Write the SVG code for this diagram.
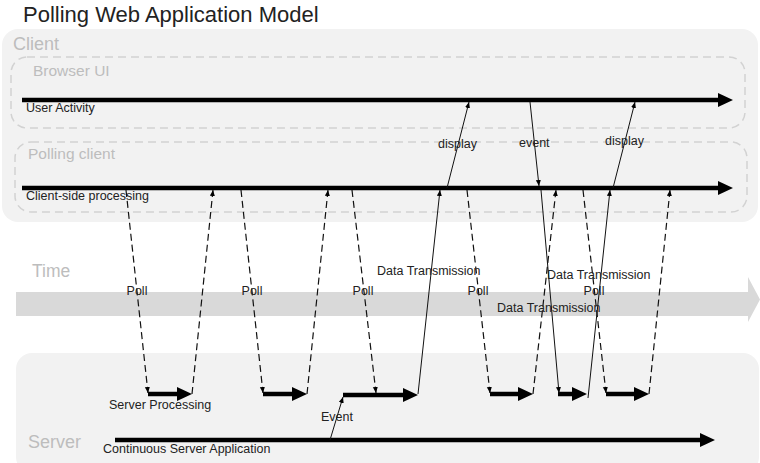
<svg xmlns="http://www.w3.org/2000/svg" width="760" height="463" viewBox="0 0 760 463">
<style>
.area{fill:#f2f2f2;stroke:none}
.lane{fill:none;stroke:#d2d2d2;stroke-width:1.5;stroke-dasharray:8 5}
.big{font-family:"Liberation Sans",Arial,sans-serif;fill:#bdbdbd}
.lbl{font-family:"Liberation Sans",Arial,sans-serif;font-size:12.5px;fill:#222}
.thick{fill:none;stroke:#000;stroke-width:4.5;marker-end:url(#head)}
.thin{fill:none;stroke:#111;stroke-width:1;marker-end:url(#tip)}
.dash{fill:none;stroke:#111;stroke-width:1.2;stroke-dasharray:7 4;marker-end:url(#tip)}
</style>
<defs>
<marker id="head" markerUnits="userSpaceOnUse" markerWidth="16" markerHeight="15" refX="0" refY="7" orient="auto">
<path d="M0,0 L15,7 L0,14 z" fill="#000"/>
</marker>
<marker id="tip" markerUnits="userSpaceOnUse" markerWidth="7" markerHeight="6" refX="6" refY="2.5" orient="auto">
<path d="M0,0 L6,2.5 L0,5 z" fill="#000"/>
</marker>
</defs>
<rect width="760" height="463" fill="#fff"/>
<text x="23" y="22" font-family="Liberation Sans, Arial, sans-serif" font-size="22" fill="#222">Polling Web Application Model</text>

<g id="client">
<rect class="area" x="2" y="29" width="756" height="193" rx="16"/>
<text class="big" x="13" y="50" font-size="18">Client</text>
</g>
<g id="browser-ui">
<rect class="lane" x="11" y="57" width="734" height="71" rx="16"/>
<text class="big" x="33" y="76" font-size="15.5">Browser UI</text>
</g>
<g id="polling-client">
<rect class="lane" x="15" y="142" width="732" height="70" rx="16"/>
<text class="big" x="28" y="159" font-size="15.5">Polling client</text>
</g>
<g id="time">
<path d="M16,292 H748 V277 L760,299.5 L748,322 V316 H16 z" fill="#d9d9d9"/>
<text class="big" x="32" y="277" font-size="17.5">Time</text>
</g>
<g id="server">
<rect class="area" x="16" y="353" width="743" height="120" rx="16"/>
<text class="big" x="28" y="448" font-size="18">Server</text>
</g>

<g id="timelines">
<path class="thick" d="M22,100 H718"/>
<text class="lbl" x="26" y="112">User Activity</text>
<path class="thick" d="M22,188 H718"/>
<text class="lbl" x="26" y="200">Client-side processing</text>
<path class="thick" d="M115,440 H700"/>
<text class="lbl" x="103" y="453">Continuous Server Application</text>
</g>

<g id="server-processing">
<path class="thick" d="M148,394 H177"/>
<path class="thick" d="M263,394 H292"/>
<path class="thick" d="M343,395 H403"/>
<path class="thick" d="M490,394 H518"/>
<path class="thick" d="M558,394 H572"/>
<path class="thick" d="M606,394 H634"/>
<text class="lbl" x="109" y="409">Server Processing</text>
</g>

<g id="connectors">
<path class="dash" d="M126,190 L148,393"/>
<path class="dash" d="M192,394 L213,190"/>
<path class="dash" d="M241,190 L263,393"/>
<path class="dash" d="M307,394 L328,190"/>
<path class="dash" d="M352,190 L376,393"/>
<path class="dash" d="M467,190 L490,393"/>
<path class="dash" d="M533,394 L556,190"/>
<path class="dash" d="M583,190 L606,393"/>
<path class="dash" d="M649,394 L670,190"/>
<path class="thin" d="M330,440 L343,397"/>
<path class="thin" d="M418,394 L440,190"/>
<path class="thin" d="M447,188 L469,102"/>
<path class="thin" d="M530,102 L539,186"/>
<path class="thin" d="M541,190 L559,393"/>
<path class="thin" d="M588,398 L610,190"/>
<path class="thin" d="M613,188 L635,102"/>
</g>

<g id="labels">
<text class="lbl" x="137" y="295" text-anchor="middle">Poll</text>
<text class="lbl" x="252" y="295" text-anchor="middle">Poll</text>
<text class="lbl" x="363" y="295" text-anchor="middle">Poll</text>
<text class="lbl" x="478" y="295" text-anchor="middle">Poll</text>
<text class="lbl" x="594" y="295" text-anchor="middle">Poll</text>
<text class="lbl" x="377" y="275">Data Transmission</text>
<text class="lbl" x="497" y="312">Data Transmission</text>
<text class="lbl" x="547" y="279">Data Transmission</text>
<text class="lbl" x="438" y="148">display</text>
<text class="lbl" x="519" y="147">event</text>
<text class="lbl" x="605" y="145">display</text>
<text class="lbl" x="321" y="421">Event</text>
</g>
</svg>
